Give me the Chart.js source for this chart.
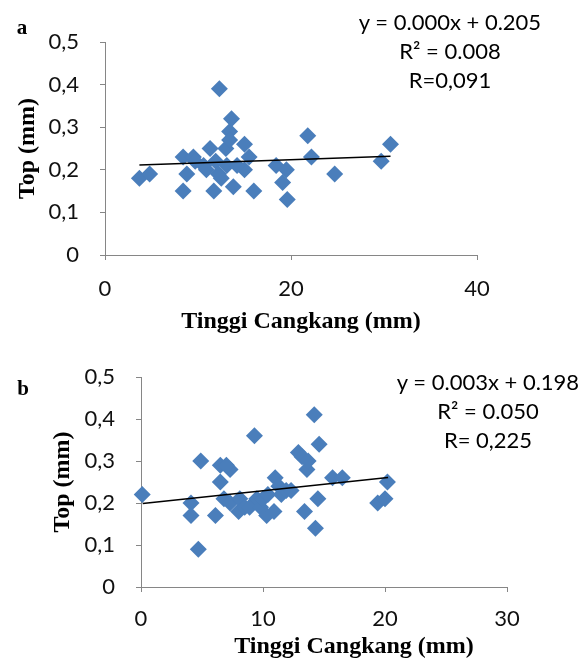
<!DOCTYPE html>
<html lang="id">
<head>
<meta charset="UTF-8">
<title>Tinggi Cangkang vs Top</title>
<script src="https://cdn.jsdelivr.net/npm/chart.js"></script>
<style>
  body { margin:0; background:#fff; width:586px; height:659px; position:relative; overflow:hidden; }
  canvas { position:absolute; left:0; }
  #chartA { top:0; }
  #chartB { top:340px; }
  .lbl { position:absolute; font-family:'Liberation Serif', serif; font-weight:bold; color:#000; white-space:nowrap; line-height:1; transform:translate(-50%,-50%); }
  .eq { position:absolute; font-family:Lato, sans-serif; font-size:22px; line-height:29px; text-align:center; width:260px; color:#000; transform:translateX(-50%); }
</style>
</head>
<body>

<canvas id="chartA" width="586" height="340"></canvas>
<canvas id="chartB" width="586" height="319"></canvas>

<div class="lbl" style="left:22px; top:27px; font-size:21px;">a</div>
<div class="lbl" style="left:23px; top:388px; font-size:21px;">b</div>
<div class="lbl" style="left:301px; top:320px; font-size:24px;">Tinggi Cangkang (mm)</div>
<div class="lbl" style="left:354px; top:645px; font-size:24px;">Tinggi Cangkang (mm)</div>

<div class="eq" style="left:450px; top:7px;">y = 0.000x + 0.205<br>R² = 0.008<br>R=0,091</div>
<div class="eq" style="left:488px; top:367px;">y = 0.003x + 0.198<br>R² = 0.050<br>R= 0,225</div>

<script>
// grafik a
const xA = [3.7, 4.8, 8.4, 8.8, 8.4, 9.5, 9.7, 10.6, 11.3, 11.9, 11.7, 12.3, 12.2, 12.5, 13.0, 13.1, 13.4, 13.6, 13.4, 13.8, 15.0, 15.0, 15.5, 16.0, 18.4, 19.5, 19.1, 19.6, 21.8, 22.2, 24.7, 29.7, 30.7, 10.9, 14.2];
const yA = [0.18, 0.19, 0.23, 0.19, 0.15, 0.23, 0.22, 0.21, 0.25, 0.22, 0.15, 0.39, 0.19, 0.18, 0.25, 0.21, 0.29, 0.32, 0.27, 0.16, 0.26, 0.20, 0.23, 0.15, 0.21, 0.20, 0.17, 0.13, 0.28, 0.23, 0.19, 0.22, 0.26, 0.20, 0.21];
const trendAx = [3.7, 30.7];
const trendAy = [0.211, 0.232];
const xTickA = ['0', '20', '40'];

// grafik b
const xB = [0.1, 4.1, 4.1, 4.7, 4.9, 6.1, 6.5, 6.5, 7.3, 7.0, 6.8, 7.3, 8.0, 8.1, 8.5, 8.9, 9.3, 9.5, 9.8, 10.0, 10.3, 10.4, 10.9, 11.0, 11.3, 11.5, 11.9, 12.3, 12.9, 13.2, 13.6, 13.4, 13.7, 14.2, 14.3, 14.5, 14.6, 15.7, 16.5, 19.4, 20.0, 20.2];
const yB = [0.22, 0.20, 0.17, 0.09, 0.30, 0.17, 0.29, 0.25, 0.28, 0.29, 0.21, 0.20, 0.18, 0.21, 0.19, 0.19, 0.36, 0.21, 0.19, 0.21, 0.17, 0.22, 0.18, 0.26, 0.24, 0.22, 0.23, 0.23, 0.32, 0.31, 0.28, 0.18, 0.30, 0.41, 0.14, 0.21, 0.34, 0.26, 0.26, 0.20, 0.21, 0.25];
const trendBx = [0.14, 20.25];
const trendBy = [0.199, 0.261];
const xTickB = ['0', '10', '20', '30'];

const yTicks = ['0', '0,1', '0,2', '0,3', '0,4', '0,5'];

function makeChart(id, xs, ys, tx, ty, xTicks, xStep, lay) {
  const pts = xs.map((x, i) => ({x: x, y: ys[i]}));
  const line = tx.map((x, i) => ({x: x, y: ty[i]}));
  const axisGrid = {drawOnChartArea: false, drawTicks: true, tickLength: 5, color: '#868686', lineWidth: 1};
  const tickFont = {family: 'Lato', size: 22};
  return new Chart(document.getElementById(id), {
    type: 'scatter',
    data: {datasets: [
      {data: line, showLine: true, borderColor: '#000', borderWidth: 1.5, pointRadius: 0, order: 0, clip: false},
      {data: pts, pointStyle: 'rectRot', pointRadius: 8.5, backgroundColor: '#4a7ebb', borderColor: '#4a7ebb', borderWidth: 0, order: 1, clip: false}
    ]},
    options: {
      responsive: false,
      animation: false,
      layout: {padding: {top: lay.top, right: lay.right, left: 0, bottom: 0}},
      plugins: {legend: {display: false}, tooltip: {enabled: false}},
      scales: {
        x: {
          type: 'linear', min: 0, max: xStep * (xTicks.length - 1),
          grid: axisGrid,
          border: {display: true, color: '#868686', width: 1},
          ticks: {stepSize: xStep, maxRotation: 0, padding: lay.xPad, color: '#111', font: tickFont,
            callback: (v, i) => xTicks[i]},
          afterFit: s => { s.height = lay.xH; }
        },
        y: {
          min: 0, max: 0.5,
          grid: axisGrid,
          border: {display: true, color: '#868686', width: 1},
          ticks: {stepSize: 0.1, padding: lay.yPad, color: '#111', font: tickFont,
            callback: (v, i) => yTicks[i]},
          title: {display: true, text: 'Top (mm)', color: '#000',
            font: {family: 'Liberation Serif', size: 24, weight: 'bold'},
            padding: {top: lay.titlePad, bottom: 0}},
          afterFit: s => { s.width = lay.yW; }
        }
      }
    }
  });
}

makeChart('chartA', xA, yA, trendAx, trendAy, xTickA, 20,
  {top: 42, right: 109, xH: 85, yW: 105, xPad: 16, yPad: 21, titlePad: 13});
makeChart('chartB', xB, yB, trendBx, trendBy, xTickB, 10,
  {top: 37, right: 79, xH: 72, yW: 141, xPad: 14, yPad: 21, titlePad: 48});
</script>
</body>
</html>
